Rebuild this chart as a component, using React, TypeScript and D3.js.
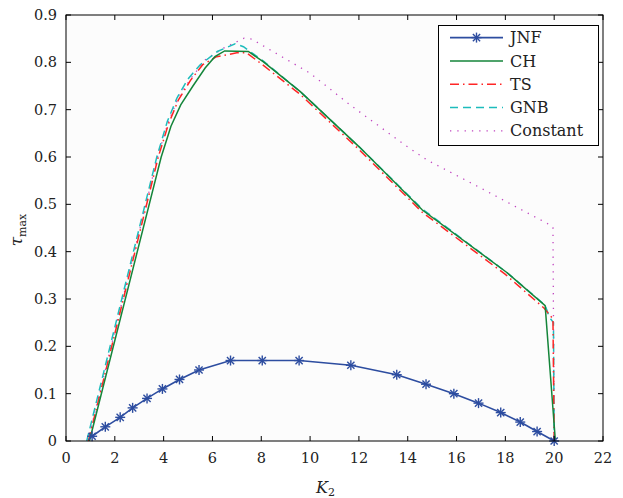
import * as d3 from "d3";
import React, { useRef, useEffect } from "react";

// JNF (blue, asterisk markers)
const jnfK = [1.07, 1.61, 2.22, 2.73, 3.32, 3.95, 4.65, 5.45, 6.74, 8.04, 9.55, 11.67, 13.55, 14.75, 15.89, 16.9, 17.81, 18.61, 19.3, 20.0];
const jnfTau = [0.01, 0.03, 0.05, 0.07, 0.09, 0.11, 0.13, 0.15, 0.17, 0.17, 0.17, 0.16, 0.14, 0.12, 0.1, 0.08, 0.06, 0.04, 0.02, 0.0];

// CH (green solid)
const chK = [0.96, 3.9, 4.3, 4.7, 5.2, 5.7, 6.1, 6.5, 7.47, 8.09, 9.6, 12.0, 14.6, 18.06, 19.63, 20.05];
const chTau = [0, 0.6, 0.665, 0.71, 0.75, 0.788, 0.812, 0.824, 0.823, 0.801, 0.738, 0.622, 0.488, 0.356, 0.286, 0];

// TS (red dash-dot)
const tsK = [0.92, 3.78, 4.2, 4.6, 5.1, 5.6, 6.17, 7.0, 7.4, 8.0, 9.6, 12.0, 14.6, 18.0, 19.6, 19.95, 20.0];
const tsTau = [0, 0.6, 0.67, 0.72, 0.762, 0.795, 0.812, 0.82, 0.82, 0.797, 0.732, 0.616, 0.483, 0.352, 0.28, 0.258, 0];

// GNB (cyan dashed)
const gnbK = [0.85, 3.72, 4.15, 4.55, 5.0, 5.5, 6.2, 6.93, 7.27, 8.1, 9.6, 12.0, 14.6, 18.06, 19.63, 19.8, 19.97, 20.0];
const gnbTau = [0, 0.6, 0.675, 0.725, 0.765, 0.795, 0.823, 0.839, 0.833, 0.802, 0.738, 0.622, 0.49, 0.356, 0.287, 0.262, 0.25, 0];

// Constant (magenta dotted)
const constK = [0.9, 3.75, 4.2, 4.6, 5.1, 5.7, 6.45, 7.3, 7.61, 10.0, 11.64, 13.89, 14.78, 16.97, 19.7, 19.95, 20.0];
const constTau = [0, 0.6, 0.675, 0.725, 0.765, 0.805, 0.83, 0.851, 0.849, 0.777, 0.71, 0.625, 0.594, 0.535, 0.46, 0.452, 0];

const xTicks = [0, 2, 4, 6, 8, 10, 12, 14, 16, 18, 20, 22];
const yTicks = [0, 0.1, 0.2, 0.3, 0.4, 0.5, 0.6, 0.7, 0.8, 0.9];
const legendNames = ["JNF", "CH", "TS", "GNB", "Constant"];

const W = 623;
const H = 498;
const margin = { top: 15, right: 20, bottom: 57, left: 66 };
const FONT = "DejaVu Serif";

const App = () => {
  const svgRef = useRef<SVGSVGElement>(null);

  useEffect(() => {
    const svg = d3.select(svgRef.current);
    svg.selectAll("*").remove();

    const x = d3.scaleLinear().domain([0, 22]).range([margin.left, W - margin.right]);
    const y = d3.scaleLinear().domain([0, 0.9]).range([H - margin.bottom, margin.top]);

    svg.append("rect")
      .attr("x", x(0)).attr("y", y(0.9))
      .attr("width", x(22) - x(0)).attr("height", y(0) - y(0.9))
      .attr("fill", "#fcfcfc");

    const series = [
      { name: "JNF", k: jnfK, t: jnfTau, color: "#2d4da0", dash: null, width: 1.6 },
      { name: "CH", k: chK, t: chTau, color: "#14853a", dash: null, width: 1.5 },
      { name: "TS", k: tsK, t: tsTau, color: "#ff2626", dash: "9,4,1.5,4", width: 1.5 },
      { name: "GNB", k: gnbK, t: gnbTau, color: "#1dbcbc", dash: "8,5", width: 1.5 },
      { name: "Constant", k: constK, t: constTau, color: "#c045c0", dash: "1.3,6", width: 1.3 },
    ];

    const line = d3.line<[number, number]>().x(d => x(d[0])).y(d => y(d[1]));

    // draw back to front: Constant, GNB, TS, CH, JNF
    [...series].reverse().forEach(s => {
      svg.append("path")
        .datum(s.k.map((k, i) => [k, s.t[i]] as [number, number]))
        .attr("d", line)
        .attr("fill", "none")
        .attr("stroke", s.color)
        .attr("stroke-width", s.width)
        .attr("stroke-dasharray", s.dash);
    });

    const star = (g: any, cx: number, cy: number, color: string) => {
      const r = 5, d = 3.6;
      const segs = [[-r, 0, r, 0], [0, -r, 0, r], [-d, -d, d, d], [-d, d, d, -d]];
      segs.forEach(s => {
        g.append("line")
          .attr("x1", cx + s[0]).attr("y1", cy + s[1])
          .attr("x2", cx + s[2]).attr("y2", cy + s[3])
          .attr("stroke", color).attr("stroke-width", 1.4);
      });
    };

    const markers = svg.append("g");
    jnfK.forEach((k, i) => star(markers, x(k), y(jnfTau[i]), series[0].color));

    // axes box with inward ticks
    const axes = svg.append("g").attr("stroke", "#000").attr("stroke-width", 1);
    axes.append("rect")
      .attr("x", x(0)).attr("y", y(0.9))
      .attr("width", x(22) - x(0)).attr("height", y(0) - y(0.9))
      .attr("fill", "none");
    const tl = 5;
    xTicks.forEach(t => {
      axes.append("line").attr("x1", x(t)).attr("x2", x(t)).attr("y1", y(0)).attr("y2", y(0) - tl);
      axes.append("line").attr("x1", x(t)).attr("x2", x(t)).attr("y1", y(0.9)).attr("y2", y(0.9) + tl);
    });
    yTicks.forEach(t => {
      axes.append("line").attr("x1", x(0)).attr("x2", x(0) + tl).attr("y1", y(t)).attr("y2", y(t));
      axes.append("line").attr("x1", x(22)).attr("x2", x(22) - tl).attr("y1", y(t)).attr("y2", y(t));
    });

    const labels = svg.append("g").attr("font-family", FONT).attr("font-size", 14.5).attr("fill", "#222");
    xTicks.forEach(t => {
      labels.append("text").attr("x", x(t)).attr("y", y(0) + 22)
        .attr("text-anchor", "middle").text(d3.format("d")(t));
    });
    yTicks.forEach(t => {
      labels.append("text").attr("x", x(0) - 9).attr("y", y(t)).attr("dy", "0.35em")
        .attr("text-anchor", "end").text(t === 0 ? "0" : d3.format(".1f")(t));
    });

    // x label: K_2
    const xl = svg.append("text").attr("font-family", FONT).attr("font-size", 16)
      .attr("x", 316).attr("y", 493).attr("fill", "#222");
    xl.append("tspan").attr("font-style", "italic").text("K");
    xl.append("tspan").attr("font-size", 11).attr("dy", 3).text("2");

    // y label: tau_max
    const yl = svg.append("text").attr("font-family", FONT).attr("font-size", 17)
      .attr("transform", "translate(22,230) rotate(-90)").attr("text-anchor", "middle").attr("fill", "#222");
    yl.append("tspan").attr("font-style", "italic").text("τ");
    yl.append("tspan").attr("font-size", 11).attr("dy", 4).text("max");

    // legend
    const lg = svg.append("g");
    lg.append("rect").attr("x", 438.5).attr("y", 25.5).attr("width", 160).attr("height", 120)
      .attr("fill", "#fff").attr("stroke", "#000").attr("stroke-width", 1);
    legendNames.forEach((name, i) => {
      const s = series[i];
      const ly = 37.6 + i * 23.3;
      lg.append("line").attr("x1", 450).attr("x2", 503).attr("y1", ly).attr("y2", ly)
        .attr("stroke", s.color).attr("stroke-width", s.width)
        .attr("stroke-dasharray", s.dash);
      if (i === 0) star(lg, 476.5, ly, s.color);
      lg.append("text").attr("x", 510).attr("y", ly).attr("dy", "0.35em")
        .attr("font-family", FONT).attr("font-size", 16).attr("fill", "#222").text(name);
    });
  }, []);

  return (
    <svg
      ref={svgRef}
      width={W}
      height={H}
      style={{ position: "absolute", left: 0, top: 0, background: "#fff" }}
    />
  );
};

export default App;
